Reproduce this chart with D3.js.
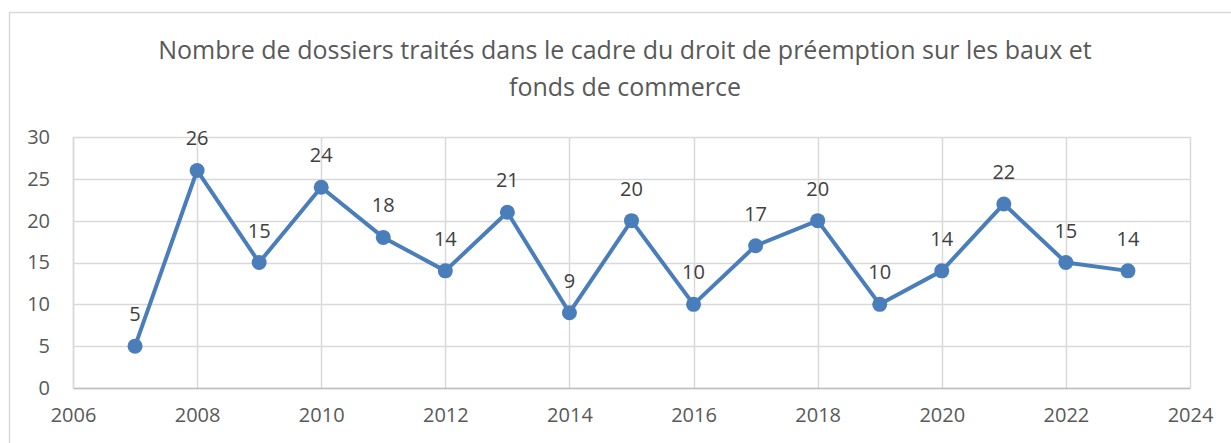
<!DOCTYPE html>
<meta charset="utf-8">
<script src="https://d3js.org/d3.v7.min.js"></script>
<style>
  body { margin: 0; background: #fff; }
  text { font-family: "Open Sans", "Noto Sans", sans-serif; }
</style>
<div id="my_dataviz"></div>
<script>

// data
var years = [2007, 2008, 2009, 2010, 2011, 2012, 2013, 2014, 2015, 2016, 2017, 2018, 2019, 2020, 2021, 2022, 2023];
var dossiers = [5, 26, 15, 24, 18, 14, 21, 9, 20, 10, 17, 20, 10, 14, 22, 15, 14];
var xTicks = [2006, 2008, 2010, 2012, 2014, 2016, 2018, 2020, 2022, 2024];
var yTicks = [0, 5, 10, 15, 20, 25, 30];
var titleLines = ["Nombre de dossiers traités dans le cadre du droit de préemption sur les baux et",
                  "fonds de commerce"];

var W = 1231, H = 443;
var margin = {top: 137, right: 41, bottom: 55, left: 73},
    width = W - margin.left - margin.right,
    height = H - margin.top - margin.bottom;

var root = d3.select("#my_dataviz")
  .append("svg")
    .attr("width", W)
    .attr("height", H);

// chart frame
root.append("rect")
  .attr("x", 9.5).attr("y", 12.5)
  .attr("width", 1260).attr("height", 500)
  .attr("fill", "none")
  .attr("stroke", "#d9d9d9")
  .attr("stroke-width", 1.5);

// title
root.append("g").selectAll("text")
  .data(titleLines)
  .join("text")
    .attr("x", 625)
    .attr("y", function(d, i) { return 50 + i * 37; })
    .attr("dy", "0.35em")
    .attr("text-anchor", "middle")
    .style("font-size", "25px")
    .style("fill", "#595959")
    .text(function(d) { return d; });

var svg = root.append("g")
  .attr("transform", "translate(" + margin.left + "," + margin.top + ")");

var x = d3.scaleLinear().domain([2006, 2024]).range([0, width]);
var y = d3.scaleLinear().domain([0, 30]).range([height, 0]);

// gridlines
svg.append("g")
  .selectAll("line.h")
  .data(yTicks)
  .join("line")
    .attr("x1", 0).attr("x2", width)
    .attr("y1", function(d) { return Math.round(y(d)) + 0.5; })
    .attr("y2", function(d) { return Math.round(y(d)) + 0.5; })
    .attr("stroke", "#d9d9d9")
    .attr("stroke-width", 1.5);
svg.append("g")
  .selectAll("line.v")
  .data(xTicks)
  .join("line")
    .attr("x1", function(d) { return Math.round(x(d)) + 0.5; })
    .attr("x2", function(d) { return Math.round(x(d)) + 0.5; })
    .attr("y1", 0).attr("y2", height)
    .attr("stroke", "#d9d9d9")
    .attr("stroke-width", 1.5);

// axes
var xAxis = svg.append("g")
  .attr("transform", "translate(0," + height + ")")
  .call(d3.axisBottom(x).tickValues(xTicks).tickFormat(d3.format("d")).tickSize(0).tickPadding(20));
xAxis.select(".domain").attr("stroke", "#bfbfbf").attr("stroke-width", 1.5);

var yAxis = svg.append("g")
  .call(d3.axisLeft(y).tickValues(yTicks).tickSize(0).tickPadding(23));
yAxis.select(".domain").attr("stroke", "#d9d9d9").attr("stroke-width", 1.5);

svg.selectAll(".tick text")
  .style("font-family", "'Open Sans', 'Noto Sans', sans-serif")
  .style("font-size", "20px")
  .style("fill", "#595959");

var pts = years.map(function(d, i) { return {year: d, value: dossiers[i]}; });

// the line
svg.append("path")
  .datum(pts)
  .attr("fill", "none")
  .attr("stroke", "#4a7ebb")
  .attr("stroke-width", 4)
  .attr("stroke-linejoin", "round")
  .attr("d", d3.line()
    .x(function(d) { return x(d.year); })
    .y(function(d) { return y(d.value); }));

// markers
svg.append("g")
  .selectAll("circle")
  .data(pts)
  .join("circle")
    .attr("cx", function(d) { return x(d.year); })
    .attr("cy", function(d) { return y(d.value); })
    .attr("r", 7.5)
    .attr("fill", "#4a7ebb");

// data labels
svg.append("g")
  .selectAll("text")
  .data(pts)
  .join("text")
    .attr("x", function(d) { return x(d.year); })
    .attr("y", function(d) { return y(d.value) - 32; })
    .attr("dy", "0.35em")
    .attr("text-anchor", "middle")
    .style("font-size", "20px")
    .style("fill", "#404040")
    .text(function(d) { return d.value; });

</script>
